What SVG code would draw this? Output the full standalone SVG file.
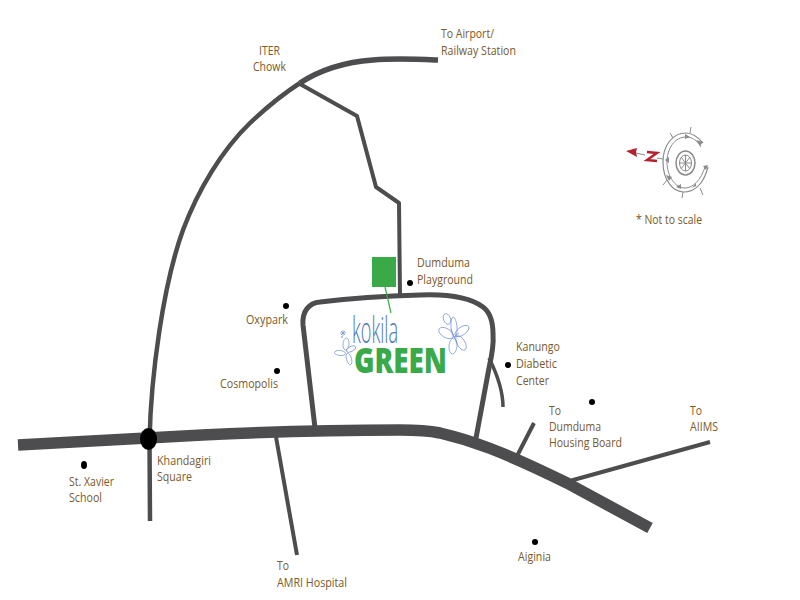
<svg xmlns="http://www.w3.org/2000/svg" width="800" height="600" viewBox="0 0 800 600">
<style>
.r{fill:none;stroke:#4d4d4f;stroke-linejoin:round}
.t{font-family:"Open Sans","Liberation Sans",sans-serif;font-size:12.5px;fill:#7a5a2a}
.d{fill:#000}
.f{fill:none;stroke:#6f8fcf;stroke-width:.7}
.c{fill:none;stroke:#8a8b8d}
.a{fill:#8a8b8d}
</style>
<rect width="800" height="600" fill="#fff"/>
<g id="connectors">
<path class="r" stroke-width="4.5" d="M150 521L149.500 440C151 375 163 285 183 230C198 190 222 150 250 123C268 106 283 94 300 83"/>
<path class="r" stroke-width="5.500" d="M300 83C320 70 345 62 373 60C395 58 415 59 438 60"/>
<path class="r" stroke-width="4" d="M300 84L357 116L376 187L399 203L400 296"/>
<path class="r" stroke-width="5" d="M315 428L303 325C302 311 309 303 320 302C345 299 385 296 420 295C445 294 468 296 483 307C491 313 493 322 493 334C494 345 492 355 489 368L476 438"/>
<path class="r" stroke-width="3.500" d="M489 358C496 372 503 390 503 407"/>
<path class="r" stroke-width="11.500" d="M18 445L147 438C250 432 340 430 400 430C420 430 430 431 440 433C470 440 500 450 567 483L650 528"/>
<path class="r" stroke-width="4" d="M276 437L297 555"/>
<path class="r" stroke-width="4" d="M516 458L534 423"/>
<path class="r" stroke-width="4" d="M566 482L710 442"/>
<path fill="none" stroke="#3aaa48" stroke-width="1.200" d="M385 287L391 313"/>
</g>
<g id="khandagiri"><ellipse class="d" cx="148.500" cy="439" rx="8.500" ry="11"/><text class="t" x="157" y="465" textLength="54" lengthAdjust="spacingAndGlyphs">Khandagiri</text><text class="t" x="157" y="481" textLength="35" lengthAdjust="spacingAndGlyphs">Square</text></g>
<g id="xavier"><ellipse class="d" cx="84" cy="465" rx="3" ry="4"/><text class="t" x="69" y="486" textLength="45" lengthAdjust="spacingAndGlyphs">St. Xavier</text><text class="t" x="69" y="502" textLength="33" lengthAdjust="spacingAndGlyphs">School</text></g>
<g id="amri"><text class="t" x="277" y="570" textLength="12" lengthAdjust="spacingAndGlyphs">To</text><text class="t" x="277" y="587" textLength="70" lengthAdjust="spacingAndGlyphs">AMRI Hospital</text></g>
<g id="aiginia"><circle class="d" cx="535" cy="542" r="3"/><text class="t" x="518" y="561" textLength="33" lengthAdjust="spacingAndGlyphs">Aiginia</text></g>
<g id="housing"><circle class="d" cx="592" cy="402" r="3"/><text class="t" x="549" y="415" textLength="12" lengthAdjust="spacingAndGlyphs">To</text><text class="t" x="549" y="431" textLength="52" lengthAdjust="spacingAndGlyphs">Dumduma</text><text class="t" x="549" y="447" textLength="73" lengthAdjust="spacingAndGlyphs">Housing Board</text></g>
<g id="aiims"><text class="t" x="690" y="415" textLength="12" lengthAdjust="spacingAndGlyphs">To</text><text class="t" x="690" y="431" textLength="28" lengthAdjust="spacingAndGlyphs">AIIMS</text></g>
<g id="kanungo"><circle class="d" cx="508" cy="365" r="3"/><text class="t" x="516" y="351" textLength="44" lengthAdjust="spacingAndGlyphs">Kanungo</text><text class="t" x="516" y="368" textLength="41" lengthAdjust="spacingAndGlyphs">Diabetic</text><text class="t" x="516" y="385" textLength="33" lengthAdjust="spacingAndGlyphs">Center</text></g>
<g id="cosmopolis"><circle class="d" cx="277" cy="371" r="3"/><text class="t" x="220" y="388" textLength="58" lengthAdjust="spacingAndGlyphs">Cosmopolis</text></g>
<g id="oxypark"><circle class="d" cx="286" cy="306" r="3"/><text class="t" x="246" y="324" textLength="42" lengthAdjust="spacingAndGlyphs">Oxypark</text></g>
<g id="playground"><circle class="d" cx="410" cy="283" r="3"/><text class="t" x="417" y="267" textLength="53" lengthAdjust="spacingAndGlyphs">Dumduma</text><text class="t" x="417" y="284" textLength="56" lengthAdjust="spacingAndGlyphs">Playground</text></g>
<g id="iter"><text class="t" x="259" y="55" textLength="21" lengthAdjust="spacingAndGlyphs">ITER</text><text class="t" x="253" y="71" textLength="33" lengthAdjust="spacingAndGlyphs">Chowk</text></g>
<g id="airport"><text class="t" x="441" y="38" textLength="53" lengthAdjust="spacingAndGlyphs">To Airport/</text><text class="t" x="441" y="55" textLength="75" lengthAdjust="spacingAndGlyphs">Railway Station</text></g>
<g id="site"><rect x="372" y="257" width="24" height="30" fill="#3aaa48"/></g>
<g id="logo">
<text x="352" y="343" font-family="'Open Sans','Liberation Sans',sans-serif" font-size="36" font-weight="300" fill="#4a76bb" textLength="46" lengthAdjust="spacingAndGlyphs">kokila</text>
<text x="354" y="373" font-family="'Open Sans','Liberation Sans',sans-serif" font-size="35" font-weight="800" fill="#3aaa48" textLength="93" lengthAdjust="spacingAndGlyphs">GREEN</text>
<g class="f">
<ellipse cx="454" cy="327" rx="3" ry="10" transform="rotate(-5 454 327)"/>
<ellipse cx="462" cy="331" rx="4" ry="8" transform="rotate(55 462 331)"/>
<ellipse cx="461" cy="343" rx="4" ry="8" transform="rotate(-30 461 343)"/>
<ellipse cx="453" cy="346" rx="4" ry="8" transform="rotate(5 453 346)"/>
<ellipse cx="446" cy="333" rx="4.500" ry="8" transform="rotate(-60 446 333)"/>
<ellipse cx="447" cy="319" rx="3.500" ry="5.500" transform="rotate(-20 447 319)"/>
<path d="M454 337L451 329M454 337L459 333M454 337L457 343"/>
</g>
<g class="f">
<ellipse cx="346" cy="344" rx="3" ry="6" transform="rotate(5 346 344)"/>
<ellipse cx="351" cy="349" rx="2.500" ry="5" transform="rotate(65 351 349)"/>
<ellipse cx="349" cy="359" rx="2.500" ry="6" transform="rotate(-15 349 359)"/>
<ellipse cx="340" cy="353" rx="2.500" ry="5.500" transform="rotate(-85 340 353)"/>
<path d="M340 333H346M343 330V336M341 331L345 335M345 331L341 335"/>
<circle cx="342" cy="337" r=".6"/>
</g>
</g>
<g id="compass">
<path fill="#b5202e" d="M626 151L637 148L636 152L637 157Z"/>
<path stroke="#8a8b8d" fill="none" d="M636 153L645 155"/>
<path fill="none" stroke="#b5202e" stroke-width="2.500" d="M647 152L657 153L647 160L657 161"/>
<path stroke="#8a8b8d" fill="none" d="M657 158L663 159"/>
<path class="c" stroke-width="1.200" d="M703 143C697 136 692 133 686 133C672 133 663 146 663 162C663 179 672 192 684 192C693 192 703 186 708 167"/>
<path class="c" d="M701 147C697 140 692 137 686 137C675 137 667 148 667 162C667 176 675 188 685 188C693 188 701 180 705 167"/>
<ellipse class="c" stroke-width="1.500" cx="685.500" cy="163" rx="9.500" ry="12"/>
<ellipse class="c" cx="685.500" cy="163" rx="6" ry="8"/>
<path class="c" d="M685.500 155V171M679.500 163H691.500M681 157L690 169M690 157L681 169"/>
<path class="c" d="M670 133L673 138M691 127L690 133M663 185L667 180M682 198L683 192M703 195L700 188"/>
<path class="a" d="M665 160L669 157V163ZM690 137L685 134L685 139ZM700 146L696 140L703 142ZM669 181L666 175L672 177ZM681 189L676 187L681 184ZM696 186L692 188L696 183ZM706 170L703 166L708 165Z"/>
<text class="t" x="636" y="224" textLength="66" lengthAdjust="spacingAndGlyphs">* Not to scale</text>
</g>
</svg>
